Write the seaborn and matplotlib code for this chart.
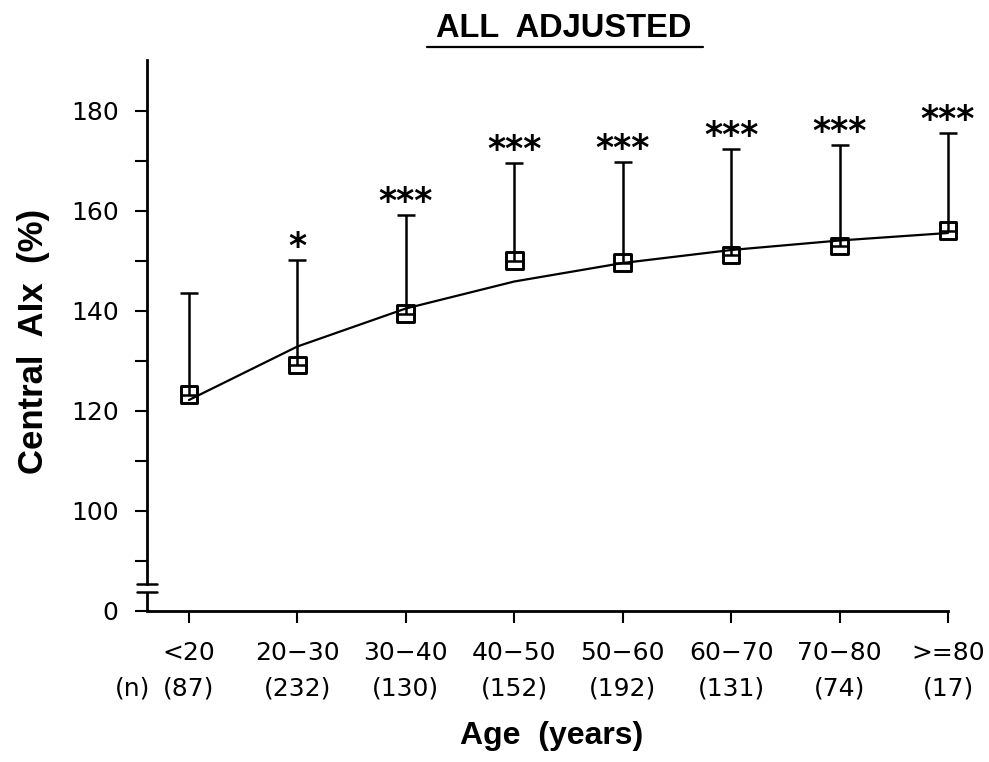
import matplotlib
matplotlib.use("Agg")
import matplotlib.pyplot as plt
import numpy as np
import pandas as pd
import seaborn as sns
from matplotlib.lines import Line2D
from matplotlib.transforms import blended_transform_factory

# Age groups, group sizes and central augmentation index (adjusted)
age_groups = ["<20", "20\u221230", "30\u221240", "40\u221250",
              "50\u221260", "60\u221270", "70\u221280", ">=80"]
group_n = [87, 232, 130, 152, 192, 131, 74, 17]
aix_mean = [123.3, 129.2, 139.5, 150.1, 149.7, 151.2, 153.0, 156.1]
aix_upper = [143.7, 150.3, 159.2, 169.7, 169.9, 172.4, 173.2, 175.7]
aix_fit = [122.2, 132.9, 140.5, 145.9, 149.6, 152.2, 154.1, 155.6]
significance = ["", "*", "***", "***", "***", "***", "***", "***"]

# Broken value axis: the bottom tick stands for zero
y_major = [80, 100, 120, 140, 160, 180]
y_major_labels = ["0", "100", "120", "140", "160", "180"]
y_minor = [90, 110, 130, 150, 170]
y_top = 190.2
break_lo, break_hi = 83.8, 85.4

sns.set_style("ticks")
plt.rcParams["font.family"] = ["DejaVu Sans"]
plt.rcParams["text.color"] = "black"
plt.rcParams["axes.labelcolor"] = "black"
plt.rcParams["xtick.color"] = "black"
plt.rcParams["ytick.color"] = "black"

BOLD = dict(family=["Liberation Sans", "DejaVu Sans"], fontweight="bold")

W, H = 989, 762
fig = plt.figure(figsize=(W / 100, H / 100), dpi=100)
ax = fig.add_axes([147 / W, (H - 611) / H, 801 / W, 551 / H])

df = pd.DataFrame({
    "pos": np.arange(len(age_groups)),
    "mean": aix_mean,
    "upper": aix_upper,
    "fit": aix_fit,
})

# fitted age trend
sns.lineplot(data=df, x="pos", y="fit", color="black", lw=1.6, ax=ax,
             clip_on=False, zorder=2)

# one-sided (upper) error bars
ax.errorbar(df["pos"], df["mean"],
            yerr=[np.zeros(len(df)), df["upper"] - df["mean"]],
            fmt="none", ecolor="black", elinewidth=1.8, capsize=6.5,
            capthick=1.8, clip_on=False, zorder=2)

# group means as open squares
sns.scatterplot(data=df, x="pos", y="mean", marker="s", s=12 ** 2,
                facecolor="none", edgecolor="black", linewidth=2.1,
                ax=ax, clip_on=False, zorder=3)

# significance stars above the error bars
for i, (u, s) in enumerate(zip(aix_upper, significance)):
    if s:
        ax.annotate(s, (i, u), xytext=(0, -3.2), textcoords="offset points",
                    ha="center", va="bottom", fontsize=25,
                    fontweight="bold")

x_left = -0.387
ax.set_xlim(x_left, len(age_groups) - 1)
ax.set_ylim(80, y_top)
ax.set_xticks(df["pos"])
ax.set_xticklabels(age_groups)
ax.set_yticks(y_major)
ax.set_yticklabels(y_major_labels)
ax.set_yticks(y_minor, minor=True)
ax.tick_params(axis="both", which="both", direction="out", length=8.5,
               width=1.5, color="black", labelsize=18, labelcolor="black")
ax.tick_params(axis="x", pad=13)
ax.tick_params(axis="y", pad=12)

for side in ("top", "right"):
    ax.spines[side].set_visible(False)
for side in ("left", "bottom"):
    ax.spines[side].set_linewidth(2)
    ax.spines[side].set_color("black")

# axis break
ax.spines["left"].set_bounds(break_hi, y_top)
ax.plot([x_left, x_left], [80, break_lo], color="black", lw=2,
        solid_capstyle="butt", clip_on=False)
ytrans = ax.get_yaxis_transform()
for yb in (break_lo, break_hi):
    ax.plot([-0.0125, 0.0125], [yb, yb], color="black", lw=1.8,
            transform=ytrans, clip_on=False)

# group sizes under the age labels
xtrans = blended_transform_factory(ax.transData, ax.transAxes)
ax.text(-0.521, -0.141, "(n)", ha="center", va="center", fontsize=18,
        transform=xtrans)
for i, n in enumerate(group_n):
    ax.text(i, -0.141, f"({n})", ha="center", va="center", fontsize=18,
            transform=xtrans)

ax.set_xlabel("Age  (years)", fontsize=23, **BOLD)
ax.xaxis.set_label_coords(0.505, -0.2)
ax.set_ylabel("Central  AIx  (%)", fontsize=25, **BOLD)
ax.yaxis.set_label_coords(-0.121, 0.489)

# underlined title
fig.text(564 / W, 1 - 37 / H, "ALL  ADJUSTED", ha="center", va="baseline",
         fontsize=23.5, **BOLD)
fig.add_artist(Line2D([427 / W, 703 / W], [1 - 46.7 / H] * 2, lw=1.6,
                      color="black", transform=fig.transFigure))

fig.savefig("out.png", dpi=100)
